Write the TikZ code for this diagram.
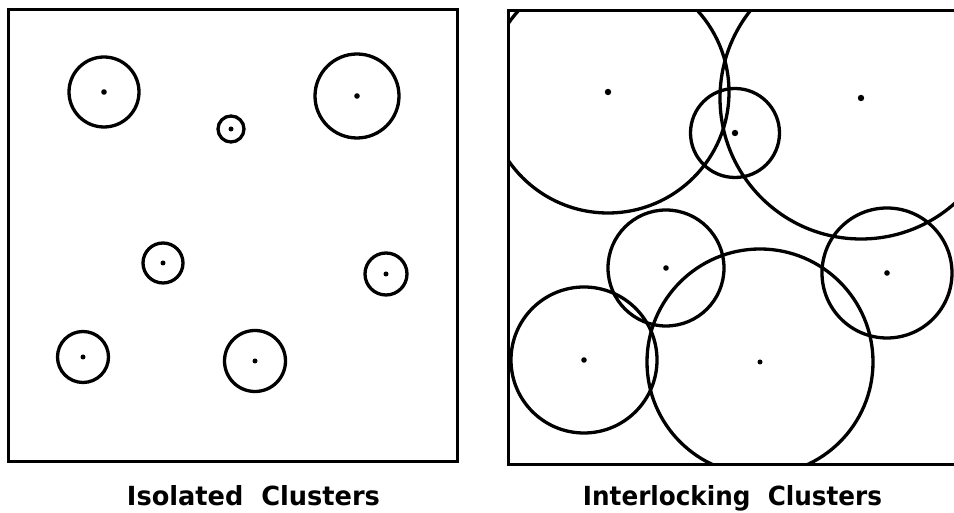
\documentclass[tikz,border=0pt]{standalone}
\usepackage{fontspec}
\setmainfont{DejaVu Sans}
\usetikzlibrary{positioning}

\begin{document}
\begin{tikzpicture}[
            x=1pt, y=1pt,
            ring/.style={line width=3.3pt},
            frame/.style={line width=3pt},
            seed/.style={fill=black},
            caption/.style={anchor=base, inner sep=0pt, font=\bfseries}
        ]
            \useasboundingbox (0,0) rectangle (954,513);

            % left panel
            \draw[frame] (8,51) rectangle (457,503);
            \draw[ring] (104,421) circle (35);
            \draw[ring] (231,384) circle (13);
            \draw[ring] (357,417) circle (42);
            \draw[ring] (163,250) circle (20);
            \draw[ring] (386,239) circle (21);
            \draw[ring] (83,156) circle (25.5);
            \draw[ring] (255,152) circle (30.5);
            \fill[seed] (104,421) circle (2.8);
            \fill[seed] (231,384) circle (2.5);
            \fill[seed] (357,417) circle (2.8);
            \fill[seed] (163,250) circle (2.5);
            \fill[seed] (386,239) circle (2.5);
            \fill[seed] (83,156) circle (2.5);
            \fill[seed] (255,152) circle (2.5);

            % right panel
            \begin{scope}
                \clip (508,48) rectangle (960,502);
                \draw[ring] (608,421) circle (121);
                \draw[ring] (735,380) circle (44.5);
                \draw[ring] (861,415) circle (141);
                \draw[ring] (666,245) circle (58);
                \draw[ring] (887,240) circle (65);
                \draw[ring] (584,153) circle (73);
                \draw[ring] (760,151) circle (113);
            \end{scope}
            \fill[seed] (608,421) circle (3.2);
            \fill[seed] (735,380) circle (3.2);
            \fill[seed] (861,415) circle (3.2);
            \fill[seed] (666,245) circle (2.8);
            \fill[seed] (887,240) circle (2.8);
            \fill[seed] (584,153) circle (2.8);
            \fill[seed] (760,151) circle (2.5);
            \draw[frame] (960,48) -- (508,48) -- (508,502) -- (960,502);

            \node[caption] (isolated) at (253.5,7) {\resizebox{253pt}{20pt}{Isolated\ \ Clusters}};
            \node[caption] (interlocking) at (732.5,7) {\resizebox{299pt}{20pt}{Interlocking\ \ Clusters}};
        \end{tikzpicture}
\end{document}
